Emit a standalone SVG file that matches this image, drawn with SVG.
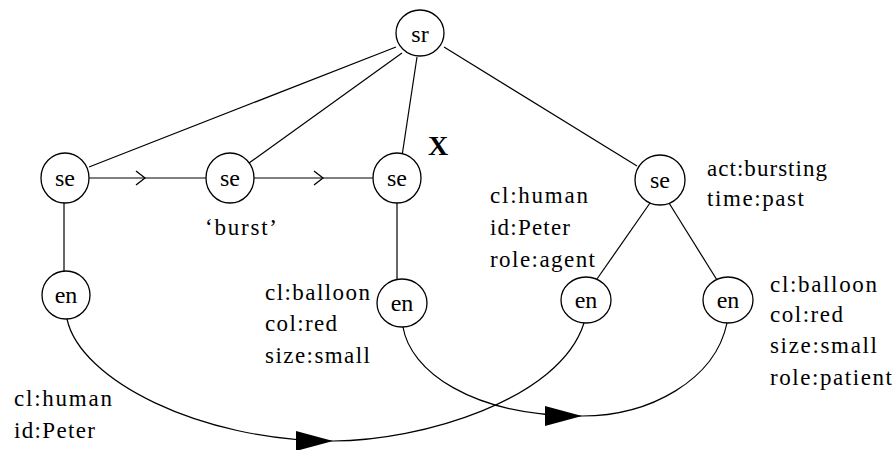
<svg xmlns="http://www.w3.org/2000/svg" width="894" height="450" viewBox="0 0 894 450">
<style>
.node ellipse{fill:#fff;stroke:#000;stroke-width:1.3}
.node text{font-family:"Liberation Serif","DejaVu Serif",serif;font-size:24px;fill:#000;text-anchor:middle}
.lbl{font-family:"Liberation Serif","DejaVu Serif",serif;font-size:23px;fill:#000}
.edge{fill:none;stroke:#000;stroke-width:1.2}
</style>
<defs>
<marker id="chev" markerUnits="userSpaceOnUse" markerWidth="14" markerHeight="18" refX="10" refY="8" orient="auto" viewBox="0 0 14 18">
<path d="M1,1 L10,8 L1,15" fill="none" stroke="#000" stroke-width="1.3"/>
</marker>
<marker id="tri" markerUnits="userSpaceOnUse" markerWidth="38" markerHeight="22" refX="37" refY="10" orient="auto" viewBox="0 0 38 22">
<path d="M0,0 L37,10 L0,20 z" fill="#000"/>
</marker>
</defs>
<g id="connectors">
<line class="edge" x1="396" y1="47" x2="89" y2="167"/>
<line class="edge" x1="402" y1="53" x2="249" y2="163"/>
<line class="edge" x1="417" y1="57" x2="402" y2="156"/>
<line class="edge" x1="444" y1="47" x2="637" y2="166"/>
<path class="edge" d="M89,178 L145,178 L206,178" marker-mid="url(#chev)"/>
<path class="edge" d="M254,178 L323,178 L373,178" marker-mid="url(#chev)"/>
<line class="edge" x1="64" y1="202" x2="64" y2="272"/>
<line class="edge" x1="397" y1="202" x2="397" y2="280"/>
<line class="edge" x1="650" y1="203" x2="597" y2="279"/>
<line class="edge" x1="669" y1="203" x2="717" y2="280"/>
<path class="edge" d="M67,319 C80,380 200,441 333,441 C420,441 560,400 584,323" marker-mid="url(#tri)"/>
<path class="edge" d="M403,327 C410,370 470,416 582,416 C650,416 715,380 727,323" marker-mid="url(#tri)"/>
</g>
<g id="sr" class="node"><ellipse cx="420" cy="33" rx="24" ry="23"/><text x="420" y="42">sr</text></g>
<g id="se1" class="node"><ellipse cx="65" cy="178" rx="24" ry="25"/><text x="65" y="186">se</text></g>
<g id="se2" class="node"><ellipse cx="230" cy="178" rx="24" ry="25"/><text x="230" y="186">se</text></g>
<g id="se3" class="node"><ellipse cx="397" cy="178" rx="24" ry="25"/><text x="397" y="186">se</text></g>
<g id="se4" class="node"><ellipse cx="660" cy="180" rx="25" ry="25"/><text x="660" y="188">se</text></g>
<g id="en1" class="node"><ellipse cx="66" cy="295" rx="24" ry="24"/><text x="66" y="303">en</text></g>
<g id="en2" class="node"><ellipse cx="402" cy="303" rx="25" ry="24"/><text x="402" y="311">en</text></g>
<g id="en3" class="node"><ellipse cx="586" cy="300" rx="25" ry="23"/><text x="586" y="308">en</text></g>
<g id="en4" class="node"><ellipse cx="728" cy="300" rx="25" ry="23"/><text x="728" y="308">en</text></g>
<g id="labels">
<text class="lbl" x="428" y="155" style="font-weight:bold;font-size:28px">X</text>
<text class="lbl" x="205" y="235" textLength="72">‘burst’</text>
<text class="lbl" x="707" y="176" textLength="120">act:bursting</text>
<text class="lbl" x="707" y="206" textLength="97">time:past</text>
<text class="lbl" x="490" y="203" textLength="98">cl:human</text>
<text class="lbl" x="490" y="235" textLength="80">id:Peter</text>
<text class="lbl" x="490" y="267" textLength="105">role:agent</text>
<text class="lbl" x="265" y="300" textLength="105">cl:balloon</text>
<text class="lbl" x="265" y="331" textLength="72">col:red</text>
<text class="lbl" x="265" y="363" textLength="105">size:small</text>
<text class="lbl" x="770" y="292" textLength="107">cl:balloon</text>
<text class="lbl" x="770" y="322" textLength="73">col:red</text>
<text class="lbl" x="770" y="353" textLength="107">size:small</text>
<text class="lbl" x="770" y="385" textLength="122">role:patient</text>
<text class="lbl" x="14" y="406" textLength="98">cl:human</text>
<text class="lbl" x="14" y="438" textLength="81">id:Peter</text>
</g>
</svg>
